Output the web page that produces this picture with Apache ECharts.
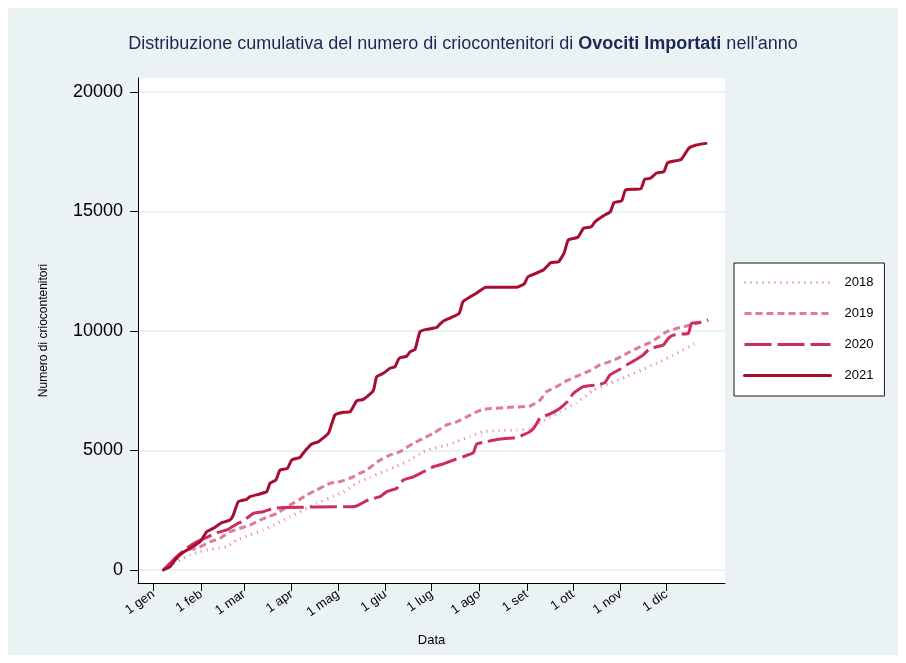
<!DOCTYPE html>
<html>
<head>
<meta charset="utf-8">
<script src="https://cdn.jsdelivr.net/npm/echarts@6/dist/echarts.min.js"></script>
<style>
html,body{margin:0;padding:0;background:#fff;}
#chart{width:906px;height:663px;}
</style>
</head>
<body>
<div id="chart"></div>
<script>
// X axis: day of year (0 = 1 gennaio)
const monthStartDays = [0, 31, 59, 90, 120, 151, 181, 212, 243, 273, 304, 334];
const monthLabels = ['1 gen', '1 feb', '1 mar', '1 apr', '1 mag', '1 giu', '1 lug', '1 ago', '1 set', '1 ott', '1 nov', '1 dic'];
const yTicks = [0, 5000, 10000, 15000, 20000];
const seriesNames = ['2018', '2019', '2020', '2021'];

const days2018 = [6.5,17.4,23.9,30.4,36.9,47.8,54.3,62.9,71.6,80.3,89,97.6,106.3,115,123.6,132.3,141,149.7,158.4,167,175.7,182.2,190.9,197.4,206,214.7,223.4,236.4,245.1,251.6,264.6,275.4,286.3,297.1,308,318.8,329.7,340.5,352.4];
const vals2018 = [0,420,630,770,870,975,1255,1465,1675,1950,2230,2510,2790,3030,3250,3630,3880,4110,4350,4600,4950,5090,5230,5370,5580,5790,5830,5860,5900,6140,6620,7000,7530,7810,8090,8400,8720,9060,9480];

const days2019 = [6.5,17.4,21.7,28.2,37,43.4,49.9,56.4,62.9,69.4,74.8,80.3,89,95.4,99.8,106.3,115,121.5,128,134.5,138.8,147.5,154,160.5,169.2,175.7,182.2,190.9,197.4,203.9,210.4,214.7,232.1,245.1,251.6,255.9,262.4,269,277.6,284.1,290.6,297.1,303.6,310.1,316.6,323.1,327.5,334,340.5,347,352.4,357];
const vals2019 = [0,630,840,910,1180,1325,1600,1745,1880,2090,2230,2370,2720,2960,3140,3350,3630,3700,3840,4050,4180,4600,4810,4950,5300,5510,5720,6070,6200,6410,6620,6720,6810,6860,7110,7460,7670,7920,8160,8340,8580,8720,8900,9130,9340,9510,9690,9970,10110,10210,10290,10400];

const days2020 = [6.5,15.2,21.7,28.2,35.8,41.2,47.8,54.3,58.6,65.1,71.6,78.1,84.6,128,132.3,135.6,141,147.5,151.9,158.4,162.7,169.2,175.7,182.2,188.7,195.2,201.7,208.2,210.4,216.9,224.5,236.4,240.7,245.1,248.3,251.6,258.1,264.6,270,273.3,279.8,288.5,293.9,297.1,303.6,308,314.5,318.8,323.2,326.4,331.8,335.1,338.3,343.8,348.1,350.3,355.7,361.1];
const vals2020 = [0,560,910,1180,1400,1560,1675,1925,2060,2370,2440,2580,2620,2650,2680,2790,2960,3070,3280,3420,3770,3900,4110,4320,4440,4600,4740,4910,5270,5370,5470,5540,5650,5790,6000,6350,6530,6770,7080,7390,7670,7740,7840,8160,8400,8580,8820,9000,9280,9320,9410,9690,9830,9870,9900,10320,10350,10460];

const days2021 = [6.5,10.9,14.1,18.5,23.9,30.4,34.7,39,44.5,49.9,52,55.3,60.8,62.9,69.4,73.8,75.9,79.8,82.4,87.2,90,95.4,97.6,103,107.4,113.9,118.2,123.6,128,132.3,136.6,143.1,145.3,149.6,154,157.3,160,164.9,167,170.3,173.5,177.9,184.4,186.5,189,194,199,201.5,206.4,210.2,216.4,236.3,241.3,243.8,248.8,253.8,258.7,263.7,267.4,270,276.2,280,285,287.4,293.7,297.4,299.8,304.8,307.3,317.2,319.7,323.5,327.2,332.2,334.7,343.4,348.4,353.3,359.6];
const vals2021 = [0,140,420,700,910,1180,1600,1745,1980,2090,2300,2860,2960,3070,3180,3280,3630,3770,4180,4250,4600,4710,4900,5270,5370,5720,6490,6600,6620,7080,7140,7500,8090,8230,8440,8510,8860,8950,9130,9230,9970,10070,10150,10290,10430,10570,10740,11230,11440,11580,11830,11830,11970,12270,12410,12550,12860,12900,13280,13810,13920,14300,14360,14570,14850,14990,15370,15450,15900,15950,16350,16390,16600,16670,17040,17180,17640,17780,17850];

function pairs(d, v) { return d.map((x, i) => [x, v[i]]); }

const styles = {
  '2018': { color: '#e6809c', width: 3, type: [1, 5], cap: 'butt' },
  '2019': { color: '#e07b97', width: 3, type: [7, 4], cap: 'butt' },
  '2020': { color: '#cc2d59', width: 3, type: [27, 6], cap: 'butt' },
  '2021': { color: '#a60d30', width: 3, type: 'solid', cap: 'round' }
};
const dataMap = {
  '2018': pairs(days2018, vals2018),
  '2019': pairs(days2019, vals2019),
  '2020': pairs(days2020, vals2020),
  '2021': pairs(days2021, vals2021)
};

const chart = echarts.init(document.getElementById('chart'), null, { renderer: 'canvas' });
const FONT = 'Liberation Sans, Arial, sans-serif';

chart.setOption({
  backgroundColor: '#eaf2f3',
  animation: false,
  textStyle: { fontFamily: FONT },
  graphic: [{
    type: 'rect', silent: true,
    shape: { x: 0, y: 0, width: 906, height: 663 },
    style: { fill: 'none', stroke: '#ffffff', lineWidth: 16 },
    z: 100
  }],
  title: {
    text: '{a|Distribuzione cumulativa del numero di criocontenitori di }{b|Ovociti Importati}{a| nell\'anno}',
    left: 463, top: 35, textAlign: 'center', padding: 0,
    textStyle: {
      fontWeight: 'normal',
      rich: {
        a: { fontSize: 18, color: '#1c2957', fontWeight: 'normal', fontFamily: FONT },
        b: { fontSize: 18, color: '#1c2957', fontWeight: 'bold', fontFamily: FONT }
      }
    }
  },
  legend: {
    orient: 'vertical',
    left: 734, top: 263,
    padding: [13, 11, 14, 9],
    itemWidth: 86, itemHeight: 14, itemGap: 18,
    backgroundColor: '#ffffff',
    borderColor: '#1a1a1a', borderWidth: 1,
    itemStyle: { opacity: 0 },
    lineStyle: { width: 3 },
    textStyle: { fontSize: 13, color: '#000', padding: [0, 0, 0, 9], fontFamily: FONT },
    data: seriesNames
  },
  grid: {
    left: 138, top: 78, right: 181, bottom: 80,
    show: true, backgroundColor: '#ffffff', borderWidth: 0
  },
  xAxis: {
    type: 'value', min: -10, max: 372,
    name: 'Data', nameLocation: 'middle', nameGap: 51,
    nameTextStyle: { fontSize: 13, color: '#000' },
    axisLine: { show: true, onZero: false, lineStyle: { color: '#000', width: 1 } },
    axisTick: { show: true, length: 8, customValues: monthStartDays, lineStyle: { color: '#000' } },
    axisLabel: {
      customValues: monthStartDays, rotate: 35, margin: 10, fontSize: 13, color: '#000',
      formatter: function (v) { const i = monthStartDays.indexOf(v); return i >= 0 ? monthLabels[i] : ''; }
    },
    splitLine: { show: false }
  },
  yAxis: {
    type: 'value', min: -544, max: 20586,
    name: 'Numero di criocontenitori', nameLocation: 'middle', nameGap: 88,
    nameTextStyle: { fontSize: 12, color: '#000' },
    axisLine: { show: true, onZero: false, lineStyle: { color: '#000', width: 1 } },
    axisTick: { show: true, length: 8, customValues: yTicks, lineStyle: { color: '#000' } },
    axisLabel: {
      customValues: yTicks, margin: 15, fontSize: 18, color: '#000',
      formatter: function (v) { return String(v); }
    },
    splitLine: { show: true, lineStyle: { color: '#eaf2f3', width: 2 } }
  },
  series: seriesNames.map(n => ({
    name: n,
    type: 'line',
    data: dataMap[n],
    showSymbol: false,
    symbol: 'none',
    smooth: 0.15,
    lineStyle: { color: styles[n].color, width: styles[n].width, type: styles[n].type, cap: styles[n].cap, join: 'round' },
    itemStyle: { color: styles[n].color },
    z: n === '2021' ? 5 : 3
  }))
});
</script>
</body>
</html>
